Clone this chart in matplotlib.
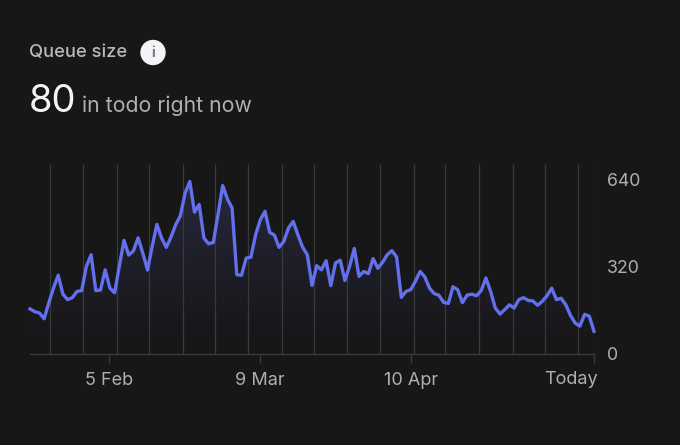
import matplotlib
matplotlib.use("Agg")
import matplotlib.pyplot as plt
from matplotlib.patches import Circle, Polygon
from matplotlib.colors import LinearSegmentedColormap
import numpy as np

plt.rcParams['font.family'] = ['Inter', 'DejaVu Sans']

# queue size per day, last point is today
queue = [165, 155, 150, 129, 187, 241, 288, 219, 199, 206, 229, 232, 321, 363, 232, 234, 308, 241, 224, 321,
         416, 362, 377, 425, 369, 307, 394, 474, 424, 390, 428, 473, 506, 589, 631, 519, 547, 424, 403, 408,
         510, 616, 567, 534, 290, 288, 351, 354, 436, 491, 522, 445, 435, 390, 412, 461, 485, 436, 391, 363,
         251, 323, 308, 341, 250, 333, 343, 269, 321, 386, 284, 302, 294, 349, 314, 335, 363, 378, 355, 207,
         229, 235, 266, 302, 282, 241, 221, 215, 189, 185, 246, 235, 188, 215, 219, 213, 232, 278, 229, 168,
         146, 162, 180, 168, 199, 206, 196, 194, 178, 193, 213, 241, 199, 204, 180, 141, 113, 102, 145, 138, 83]
days = list(range(len(queue)))

week_lines = [4.2, 11.3, 18.45, 25.3, 32.5, 39.3, 46.4, 53.6, 60.4, 67.5, 74.4, 81.6, 88.4, 95.5, 102.7, 109.5, 116.7, 120]
x_ticks = [16.9, 49, 81, 120]
x_labels = ['5 Feb', '9 Mar', '10 Apr', 'Today']
y_ticks = [0, 320, 640]

bg = '#171718'
line_col = '#6270ee'
grid_col = '#3a3a3d'
label_col = '#afafb1'

W, H = 680, 445
fig = plt.figure(figsize=(W / 100, H / 100), dpi=100, facecolor=bg)

ax = fig.add_axes([30 / W, 1 - 354 / H, 564 / W, 190 / H], facecolor=bg)

# gradient under the line
cmap = LinearSegmentedColormap.from_list('fade', ['#171718', '#28283f'])
grad = np.linspace(0, 1, 200).reshape(-1, 1) ** 1.3
im = ax.imshow(grad, extent=[0, 120, 0, 640], origin='lower', aspect='auto', cmap=cmap, zorder=1)
poly = Polygon(list(zip(days, queue)) + [(120, 0), (0, 0)], closed=True, transform=ax.transData,
               facecolor='none', edgecolor='none')
ax.add_patch(poly)
im.set_clip_path(poly)
ax.set_xlim(0, 120)
ax.set_ylim(0, 695)

ax.vlines(week_lines, 0, 695, color=grid_col, lw=0.9, zorder=2)
ax.plot(days, queue, color=line_col, lw=2.4, zorder=3, solid_joinstyle='round', clip_on=False)

for side in ['top', 'left', 'right']:
    ax.spines[side].set_visible(False)
ax.spines['bottom'].set_color(grid_col)
ax.spines['bottom'].set_linewidth(1.0)

ax.set_xticks(x_ticks)
ax.set_xticklabels(x_labels)
ax.tick_params(axis='x', length=6.5, width=1.0, color=grid_col, labelcolor=label_col, labelsize=13, pad=6.5)
ax.set_yticks(y_ticks)
ax.yaxis.tick_right()
ax.tick_params(axis='y', length=0, labelcolor=label_col, labelsize=12.8, pad=9)

# header and the Today label, placed in pixel coordinates
top = fig.add_axes([0, 0, 1, 1], facecolor='none')
top.set_xlim(0, W)
top.set_ylim(H, 0)
top.axis('off')
top.text(29, 52, 'Queue size', color='#b8b8ba', fontsize=13.2, fontweight='medium', va='center')
top.add_patch(Circle((153, 52.5), 12, color='#f4f4f6'))
top.text(153, 53, 'i', color='#77778a', fontsize=10, fontweight='bold', ha='center', va='center')
top.text(29, 112, '80', color='#f4f4f4', fontsize=27.5, va='baseline')
top.text(82, 112, 'in todo right now', color=label_col, fontsize=15.3, va='baseline')

ax.get_xticklabels()[-1].set_visible(False)
top.text(598, 379.5, x_labels[-1], color=label_col, fontsize=13, ha='right', va='center')

fig.savefig('out.png', dpi=100, facecolor=bg)
